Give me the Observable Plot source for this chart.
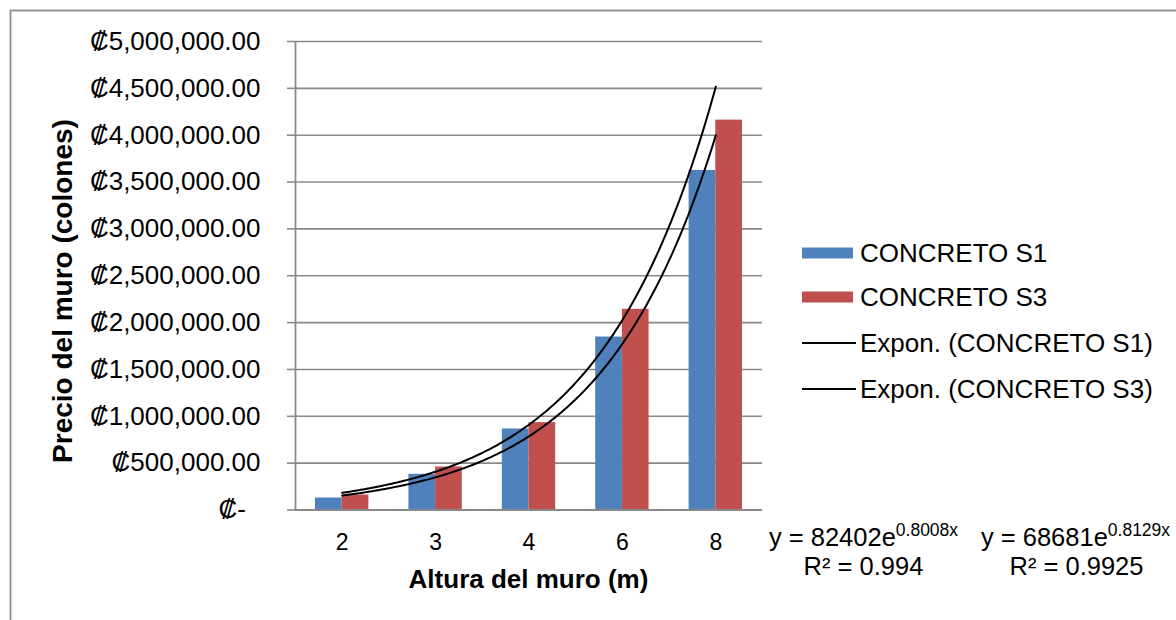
<!DOCTYPE html>
<html><head><meta charset="utf-8">
<script src="https://cdn.jsdelivr.net/npm/d3@7"></script>
<script src="https://cdn.jsdelivr.net/npm/@observablehq/plot@0.6"></script>
<style>html,body{margin:0;padding:0;background:#fff;overflow:hidden} #chart svg{display:block}</style>
</head><body><div id="chart"></div>
<script>
// ---- data ----
const alturas = ["2", "3", "4", "6", "8"];
const concretoS1 = [128000, 381000, 865000, 1846000, 3624000];
const concretoS3 = [160000, 459000, 933000, 2142000, 4161000];
const seriesNames = ["CONCRETO S1", "CONCRETO S3"];
const seriesColors = ["#4F81BD", "#C0504D"];
const trendNames = ["Expon. (CONCRETO S1)", "Expon. (CONCRETO S3)"];
const trendA = [82402, 68681];
const trendB = [0.8008, 0.8129];
const trendR2 = ["0.994", "0.9925"];
const yTicks = [0, 500000, 1000000, 1500000, 2000000, 2500000, 3000000, 3500000, 4000000, 4500000, 5000000];

// ---- layout ----
const W = 1176, H = 620, ML = 295, MR = 414, MT = 41, MB = 110.5;
const step = (W - ML - MR) / alturas.length;
const barW = step / 3.5;
const FONT = "'Liberation Sans', Arial, sans-serif";
const GRID = "#898989";

const idx = alturas.map((a, i) => i + 1);
const s1 = alturas.map((a, i) => ({i: i + 1, v: concretoS1[i]}));
const s3 = alturas.map((a, i) => ({i: i + 1, v: concretoS3[i]}));

// trendlines from the displayed fitted equations (Excel fits on category index 1..n)
const trend = [];
[0, 1].forEach(k => {
  for (let t = 0; t <= 200; t++) {
    const x = 1 + t * (alturas.length - 1) / 200;
    trend.push({k, x, y: trendA[k] * Math.exp(trendB[k] * x)});
  }
});

const yFmt = v => v === 0 ? "\u20A1-\u2007" : "\u20A1" + d3.format(",.2f")(v);

const plot = Plot.plot({
  width: W, height: H,
  marginLeft: ML, marginRight: MR, marginTop: MT, marginBottom: MB,
  style: {fontFamily: FONT, color: "black", background: "white"},
  x: {domain: [0.5, alturas.length + 0.5], label: null},
  y: {domain: [0, 5000000], label: null},
  marks: [
    Plot.gridY(yTicks, {stroke: GRID, strokeOpacity: 1, strokeWidth: 1.6}),
    Plot.rectY(s1, {x1: d => d.i - 0.5, x2: d => d.i + 0.5, y: "v", fill: seriesColors[0],
      insetLeft: step / 2 - barW, insetRight: step / 2}),
    Plot.rectY(s3, {x1: d => d.i - 0.5, x2: d => d.i + 0.5, y: "v", fill: seriesColors[1],
      insetLeft: step / 2, insetRight: step / 2 - barW}),
    Plot.ruleY([0], {stroke: GRID, strokeWidth: 1.8}),
    Plot.ruleX([0.5], {stroke: GRID, strokeWidth: 1.8}),
    Plot.axisY(yTicks, {tickSize: 8, tickPadding: 27, tickFormat: yFmt, fontSize: 26,
      stroke: GRID, strokeWidth: 1.6, strokeOpacity: 1, label: null}),
    Plot.axisX(idx, {tickSize: 0, tickPadding: 23.5, tickFormat: i => alturas[i - 1], fontSize: 23, label: null}),
    Plot.line(trend, {x: "x", y: "y", z: "k", stroke: "black", strokeWidth: 2})
  ]
});
document.getElementById("chart").appendChild(plot);

const svg = d3.select(plot);
svg.insert("rect", ":first-child")
  .attr("x", 10.5).attr("y", 10.5).attr("width", 1300).attr("height", 800)
  .attr("fill", "none").attr("stroke", "#8c8c8c").attr("stroke-width", 1.8);

const g = svg.append("g").attr("font-family", FONT).attr("fill", "black").attr("text-anchor", "start");

// axis titles
g.append("text").attr("transform", "translate(62,291) rotate(-90)")
  .attr("text-anchor", "middle").attr("dominant-baseline", "central")
  .attr("font-weight", "bold").attr("font-size", 28).text("Precio del muro (colones)");
g.append("text").attr("x", (ML + W - MR) / 2).attr("y", 588)
  .attr("text-anchor", "middle").attr("font-weight", "bold").attr("font-size", 26)
  .text("Altura del muro (m)");

// legend
const legY = [253, 297, 343, 389];
seriesNames.forEach((n, k) => {
  g.append("rect").attr("x", 802).attr("y", legY[k] - 5.5).attr("width", 51).attr("height", 11)
    .attr("fill", seriesColors[k]);
  g.append("text").attr("x", 860).attr("y", legY[k]).attr("dominant-baseline", "central")
    .attr("text-anchor", "start").attr("font-size", 26).text(n);
});
trendNames.forEach((n, k) => {
  g.append("line").attr("x1", 802).attr("x2", 856).attr("y1", legY[k + 2]).attr("y2", legY[k + 2])
    .attr("stroke", "black").attr("stroke-width", 2);
  g.append("text").attr("x", 860).attr("y", legY[k + 2]).attr("dominant-baseline", "central")
    .attr("text-anchor", "start").attr("font-size", 26).text(n);
});

// equation labels
const eqX = [863.5, 1075.5];
trendA.forEach((a, k) => {
  const t = g.append("text").attr("x", eqX[k]).attr("y", 546).attr("text-anchor", "middle").attr("font-size", 25.5);
  t.append("tspan").text("y = " + a + "e");
  t.append("tspan").attr("dy", -10).attr("font-size", 17.5).text(trendB[k] + "x");
  g.append("text").attr("x", eqX[k] + (k ? 1 : 0)).attr("y", 575).attr("text-anchor", "middle")
    .attr("font-size", 25.5).text("R\u00B2 = " + trendR2[k]);
});
</script>
</body></html>
